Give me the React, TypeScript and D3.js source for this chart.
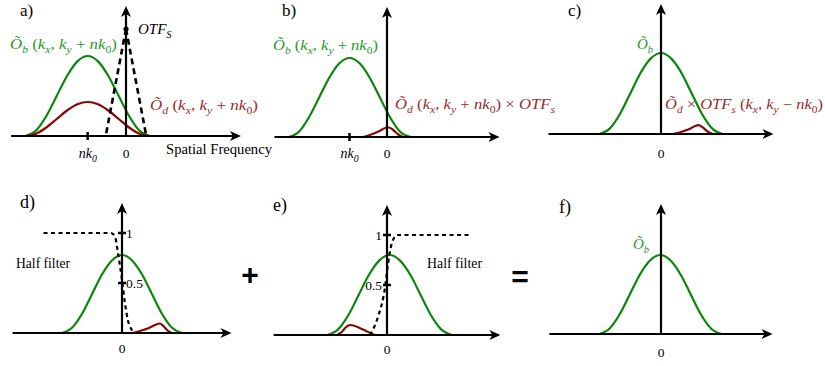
import React from "react";
import * as d3 from "d3";

const greenAX = [-2.62, -2.35, -2.08, -1.81, -1.54, -1.27, -1.0, -0.73, -0.46, -0.19, 0.08, 0.35, 0.62];
const greenAY = [0, 0.054, 0.2, 0.4, 0.6, 0.746, 0.8, 0.746, 0.6, 0.4, 0.2, 0.054, 0];
const redAY = [0, 0.023, 0.085, 0.17, 0.255, 0.317, 0.34, 0.317, 0.255, 0.17, 0.085, 0.023, 0];
const otfAX = [-0.53, 0, 0.53];
const otfAY = [0, 1.07, 0];

const greenBX = [-2.62, -2.35, -2.08, -1.81, -1.54, -1.27, -1.0, -0.73, -0.46, -0.19, 0.08, 0.35, 0.64];
const greenBY = [0, 0.053, 0.198, 0.395, 0.593, 0.737, 0.79, 0.737, 0.593, 0.395, 0.198, 0.053, 0];
const redBX = [-0.64, -0.5, -0.35, -0.2, -0.05, 0.05, 0.15, 0.3, 0.43];
const redBY = [0, 0.015, 0.035, 0.06, 0.09, 0.095, 0.075, 0.025, 0];

const greenCX = [-1.64, -1.37, -1.09, -0.82, -0.55, -0.27, 0, 0.27, 0.55, 0.82, 1.09, 1.37, 1.64];
const greenCY = [0, 0.054, 0.203, 0.405, 0.608, 0.756, 0.81, 0.756, 0.608, 0.405, 0.203, 0.054, 0];
const redCX = [0.32, 0.46, 0.61, 0.76, 0.91, 1.0, 1.1, 1.25, 1.38];
const redCY = [0, 0.013, 0.03, 0.05, 0.08, 0.088, 0.07, 0.022, 0];

const greenDX = [-1.64, -1.37, -1.09, -0.82, -0.55, -0.27, 0, 0.27, 0.55, 0.82, 1.09, 1.37, 1.64];
const greenDY = [0, 0.052, 0.195, 0.39, 0.585, 0.728, 0.78, 0.728, 0.585, 0.39, 0.195, 0.052, 0];
const redDX = [0.3, 0.45, 0.6, 0.75, 0.9, 1.04, 1.12, 1.25, 1.36];
const redDY = [0, 0.014, 0.032, 0.052, 0.08, 0.095, 0.075, 0.025, 0];
const filterDX = [-2.15, -0.3, -0.19, -0.11, 0, 0.08, 0.16, 0.27, 0.35];
const filterDY = [1, 1, 0.96, 0.8, 0.53, 0.3, 0.13, 0.03, 0];

const greenEX = [-1.57, -1.3, -1.02, -0.75, -0.48, -0.2, 0.07, 0.34, 0.62, 0.89, 1.16, 1.44, 1.71];
const greenEY = [0, 0.054, 0.2, 0.4, 0.6, 0.746, 0.8, 0.746, 0.6, 0.4, 0.2, 0.054, 0];
const redEX = [-1.32, -1.2, -1.08, -0.98, -0.85, -0.7, -0.55, -0.42, -0.32];
const redEY = [0, 0.03, 0.08, 0.1, 0.09, 0.065, 0.04, 0.015, 0];
const filterEX = [-0.45, -0.35, -0.24, -0.05, 0.03, 0.13, 0.27, 2.2];
const filterEY = [0, 0.07, 0.18, 0.48, 0.72, 0.92, 1, 1];

const greenFX = [-1.66, -1.39, -1.11, -0.84, -0.57, -0.29, -0.02, 0.25, 0.53, 0.8, 1.07, 1.35, 1.62];
const greenFY = [0, 0.053, 0.198, 0.395, 0.593, 0.737, 0.79, 0.737, 0.593, 0.395, 0.198, 0.053, 0];

const xTickValues = [-1];
const filterTicks = [1, 0.5];
const filterTickLabels = ["1", "0.5"];
const panelLabels = ["a)", "b)", "c)", "d)", "e)", "f)"];

type Seg = [string, string];
const labelObA: Seg[] = [["Õ", "i"], ["b", "si"], [" (", "r"], ["k", "i"], ["x", "si"], [", ", "r"], ["k", "i"], ["y", "si"], [" + ", "r"], ["nk", "i"], ["0", "sr"], [")", "r"]];
const labelOdA: Seg[] = [["Õ", "i"], ["d", "si"], [" (", "r"], ["k", "i"], ["x", "si"], [", ", "r"], ["k", "i"], ["y", "si"], [" + ", "r"], ["nk", "i"], ["0", "sr"], [")", "r"]];
const labelOdB: Seg[] = [["Õ", "i"], ["d", "si"], [" (", "r"], ["k", "i"], ["x", "si"], [", ", "r"], ["k", "i"], ["y", "si"], [" + ", "r"], ["nk", "i"], ["0", "sr"], [") × ", "r"], ["OTF", "i"], ["s", "si"]];
const labelOdC: Seg[] = [["Õ", "i"], ["d", "si"], [" × ", "r"], ["OTF", "i"], ["s", "si"], [" (", "r"], ["k", "i"], ["x", "si"], [", ", "r"], ["k", "i"], ["y", "si"], [" − ", "r"], ["nk", "i"], ["0", "sr"], [")", "r"]];
const labelOb: Seg[] = [["Õ", "i"], ["b", "si"]];
const labelOTF: Seg[] = [["OTF", "i"], ["S", "si"]];
const labelNk0: Seg[] = [["nk", "i"], ["0", "si"]];
const axisName = "Spatial Frequency";
const filterName = "Half filter";

const GREEN = "#0a870a";
const GREEN_T = "#1f9a1f";
const RED = "#880808";
const RED_T = "#9a2a2a";
const SERIF = "'Liberation Serif', 'Times New Roman', serif";
const SANS = "'Liberation Sans', Arial, sans-serif";
const serifStyle: React.CSSProperties = { fontFamily: SERIF, whiteSpace: "pre" };

type Pt = [number, number];
const zip = (xs: number[], ys: number[]): Pt[] => xs.map((x, i) => [x, ys[i]]);

const layout = [
  { x0: 126, base: 136, unit: 38.3 },
  { x0: 387, base: 137, unit: 37.5 },
  { x0: 661, base: 134, unit: 37.5 },
  { x0: 122, base: 333, unit: 36.5 },
  { x0: 387, base: 335, unit: 37.8 },
  { x0: 661, base: 334, unit: 37.2 },
];

function MathText(props: { x: number; y: number; segs: Seg[]; size: number; fill: string; len?: number; anchor?: string }) {
  const { x, y, segs, size, fill, len, anchor } = props;
  let cur = 0;
  const spans = segs.map(([t, s], i) => {
    const sub = s.startsWith("s");
    const target = sub ? size * 0.28 : 0;
    const dy = target - cur;
    cur = target;
    return (
      <tspan key={i} dy={dy} fontStyle={s.endsWith("i") ? "italic" : "normal"} fontSize={sub ? size * 0.7 : size}>
        {t}
      </tspan>
    );
  });
  return (
    <text x={x} y={y} fill={fill} fontSize={size} textAnchor={anchor || "start"}
      style={serifStyle} textLength={len} lengthAdjust={len ? "spacingAndGlyphs" : undefined}>
      {spans}
    </text>
  );
}

function Panel(props: { idx: number; children?: (xs: d3.ScaleLinear<number, number>, ys: d3.ScaleLinear<number, number>) => React.ReactNode }) {
  const L = layout[props.idx];
  const xs = d3.scaleLinear().domain([-3, 3]).range([L.x0 - 3 * L.unit, L.x0 + 3 * L.unit]);
  const ys = d3.scaleLinear().domain([0, 1]).range([L.base, L.base - 100]);
  const xEnd = xs(3);
  const yTop = ys(1.3);
  const ah = 11, aw = 5;
  return (
    <g>
      {props.children ? props.children(xs, ys) : null}
      <line x1={xs(-3)} x2={xEnd - 6} y1={L.base} y2={L.base} stroke="#000" strokeWidth={2.2} />
      <path d={`M${xEnd},${L.base} L${xEnd - ah},${L.base - aw} L${xEnd - ah + 3},${L.base} L${xEnd - ah},${L.base + aw} Z`} fill="#000" />
      <line x1={L.x0} x2={L.x0} y1={L.base} y2={yTop + 6} stroke="#000" strokeWidth={2.2} />
      <path d={`M${L.x0},${yTop} L${L.x0 - aw},${yTop + ah} L${L.x0},${yTop + ah - 3} L${L.x0 + aw},${yTop + ah} Z`} fill="#000" />
    </g>
  );
}

function Txt(props: { x: number; y: number; size: number; children: React.ReactNode; anchor?: string; len?: number }) {
  return (
    <text x={props.x} y={props.y} fontSize={props.size} textAnchor={props.anchor || "start"} fill="#000" style={serifStyle}
      textLength={props.len} lengthAdjust={props.len ? "spacingAndGlyphs" : undefined}>
      {props.children}
    </text>
  );
}

export default function App() {
  const bell = (xs: any, ys: any) =>
    d3.line<Pt>().x((d) => xs(d[0])).y((d) => ys(d[1])).curve(d3.curveMonotoneX);
  const lin = (xs: any, ys: any) => d3.line<Pt>().x((d) => xs(d[0])).y((d) => ys(d[1]));

  const labelPos = [
    [20, 16, 17], [282, 16, 17], [568, 16, 17], [20, 208, 18], [273, 211, 18], [559, 213, 18],
  ];

  return (
    <svg width={825} height={366} style={{ position: "absolute", left: 0, top: 0, background: "#fff" }}>
      <rect width={825} height={366} fill="#fff" />
      {panelLabels.map((t, i) => (
        <Txt key={t} x={labelPos[i][0]} y={labelPos[i][1]} size={labelPos[i][2]}>{t}</Txt>
      ))}

      <Panel idx={0}>
        {(xs, ys) => (
          <g>
            <path d={bell(xs, ys)(zip(greenAX, greenAY))!} fill="none" stroke={GREEN} strokeWidth={2.2} />
            <path d={bell(xs, ys)(zip(greenAX, redAY))!} fill="none" stroke={RED} strokeWidth={2.2} />
            <path d={lin(xs, ys)([[otfAX[1], otfAY[1]], [otfAX[0], otfAY[0]]])!} fill="none" stroke="#000" strokeWidth={2.6} strokeDasharray="6,4" />
            <path d={lin(xs, ys)([[otfAX[1], otfAY[1]], [otfAX[2], otfAY[2]]])!} fill="none" stroke="#000" strokeWidth={2.6} strokeDasharray="6,4" />
            <circle cx={xs(otfAX[1])} cy={ys(otfAY[1])} r={2.6} fill="#000" />
            {xTickValues.map((v) => (
              <line key={v} x1={xs(v)} x2={xs(v)} y1={ys(0) - 4} y2={ys(0) + 4} stroke="#000" strokeWidth={2.5} />
            ))}
            <MathText x={xs(-1) - 9} y={158} segs={labelNk0} size={14} fill="#000" />
            <Txt x={xs(0)} y={158} size={13.5} anchor="middle">0</Txt>
            <Txt x={166} y={154} size={15.5} len={106}>{axisName}</Txt>
          </g>
        )}
      </Panel>
      <MathText x={10} y={49} segs={labelObA} size={14.5} fill={GREEN_T} len={107} />
      <MathText x={150} y={110} segs={labelOdA} size={14.5} fill={RED_T} len={108} />
      <MathText x={138} y={34} segs={labelOTF} size={15} fill="#000" />

      <Panel idx={1}>
        {(xs, ys) => (
          <g>
            <path d={bell(xs, ys)(zip(greenBX, greenBY))!} fill="none" stroke={GREEN} strokeWidth={2.2} />
            <path d={bell(xs, ys)(zip(redBX, redBY))!} fill="none" stroke={RED} strokeWidth={2.2} />
            {xTickValues.map((v) => (
              <line key={v} x1={xs(v)} x2={xs(v)} y1={ys(0) - 4} y2={ys(0) + 4} stroke="#000" strokeWidth={2.5} />
            ))}
            <MathText x={xs(-1) - 9} y={158} segs={labelNk0} size={14} fill="#000" />
            <Txt x={xs(0)} y={158} size={13.5} anchor="middle">0</Txt>
          </g>
        )}
      </Panel>
      <MathText x={273} y={50} segs={labelObA} size={14.5} fill={GREEN_T} len={105} />
      <MathText x={395} y={109} segs={labelOdB} size={14.5} fill={RED_T} len={160} />

      <Panel idx={2}>
        {(xs, ys) => (
          <g>
            <path d={bell(xs, ys)(zip(greenCX, greenCY))!} fill="none" stroke={GREEN} strokeWidth={2.2} />
            <path d={bell(xs, ys)(zip(redCX, redCY))!} fill="none" stroke={RED} strokeWidth={2.2} />
            <Txt x={xs(0)} y={158} size={13.5} anchor="middle">0</Txt>
          </g>
        )}
      </Panel>
      <MathText x={637} y={49} segs={labelOb} size={15} fill={GREEN_T} />
      <MathText x={665} y={109} segs={labelOdC} size={14.5} fill={RED_T} len={158} />

      <Panel idx={3}>
        {(xs, ys) => (
          <g>
            <path d={bell(xs, ys)(zip(greenDX, greenDY))!} fill="none" stroke={GREEN} strokeWidth={2.2} />
            <path d={bell(xs, ys)(zip(redDX, redDY))!} fill="none" stroke={RED} strokeWidth={2.2} />
            <path d={bell(xs, ys)(zip(filterDX, filterDY))!} fill="none" stroke="#000" strokeWidth={2.2} strokeDasharray="4,3.5" />
            {filterTicks.map((v, i) => (
              <g key={v}>
                <line x1={xs(0) - 4} x2={xs(0) + 4} y1={ys(v)} y2={ys(v)} stroke="#000" strokeWidth={2.5} />
                <Txt x={xs(0) + 4} y={ys(v) + 5} size={13.5}>{filterTickLabels[i]}</Txt>
              </g>
            ))}
            <Txt x={xs(0)} y={353} size={13.5} anchor="middle">0</Txt>
          </g>
        )}
      </Panel>
      <Txt x={16} y={268} size={14.5} len={54}>{filterName}</Txt>
      <text x={250} y={285} textAnchor="middle" style={{ fontFamily: SANS }} fontWeight="bold" fontSize={30}>+</text>

      <Panel idx={4}>
        {(xs, ys) => (
          <g>
            <path d={bell(xs, ys)(zip(greenEX, greenEY))!} fill="none" stroke={GREEN} strokeWidth={2.2} />
            <path d={bell(xs, ys)(zip(redEX, redEY))!} fill="none" stroke={RED} strokeWidth={2.2} />
            <path d={bell(xs, ys)(zip(filterEX, filterEY))!} fill="none" stroke="#000" strokeWidth={2.2} strokeDasharray="4,3.5" />
            {filterTicks.map((v, i) => (
              <g key={v}>
                <line x1={xs(0) - 4} x2={xs(0) + 4} y1={ys(v)} y2={ys(v)} stroke="#000" strokeWidth={2.5} />
                <Txt x={xs(0) - 5} y={ys(v) + 5} size={13.5} anchor="end">{filterTickLabels[i]}</Txt>
              </g>
            ))}
            <Txt x={xs(0)} y={354} size={13.5} anchor="middle">0</Txt>
          </g>
        )}
      </Panel>
      <Txt x={427} y={268} size={14.5} len={55}>{filterName}</Txt>
      <text x={520} y={287} textAnchor="middle" style={{ fontFamily: SANS }} fontWeight="bold" fontSize={30}>=</text>

      <Panel idx={5}>
        {(xs, ys) => (
          <g>
            <path d={bell(xs, ys)(zip(greenFX, greenFY))!} fill="none" stroke={GREEN} strokeWidth={2.2} />
            <Txt x={xs(0)} y={357} size={13.5} anchor="middle">0</Txt>
          </g>
        )}
      </Panel>
      <MathText x={633} y={249} segs={labelOb} size={15} fill={GREEN_T} />
    </svg>
  );
}
